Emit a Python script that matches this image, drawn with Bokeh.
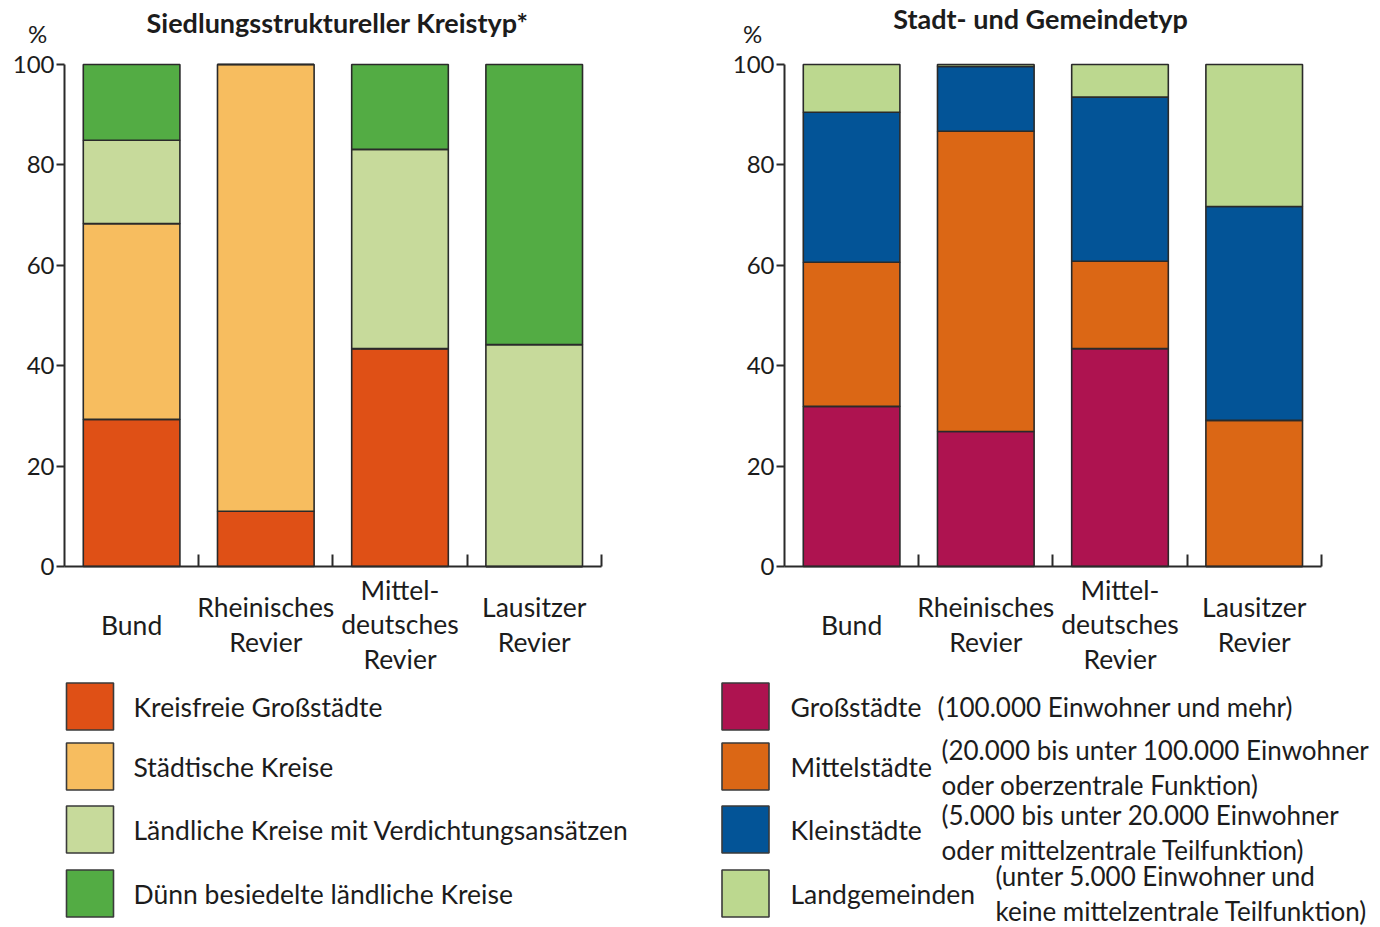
import numpy as np
from bokeh.plotting import figure
from bokeh.models import LinearAxis, FixedTicker, Range1d, ColumnDataSource
from bokeh.layouts import row
from bokeh.embed import file_html
from bokeh.resources import INLINE
from bokeh.core.properties import value

# ---------------- data ----------------
regions = ["Bund", "Rheinisches Revier", "Mitteldeutsches Revier", "Lausitzer Revier"]
region_labels = ["Bund", "Rheinisches\nRevier", "Mittel-\ndeutsches\nRevier", "Lausitzer\nRevier"]

kreis_title = "Siedlungsstruktureller Kreistyp*"
kreis_types = ["Kreisfreie Großstädte", "Städtische Kreise",
               "Ländliche Kreise mit Verdichtungsansätzen", "Dünn besiedelte ländliche Kreise"]
kreisfreie_grossstaedte = [29.3, 11.0, 43.4, 0.0]
staedtische_kreise = [39.0, 89.0, 0.0, 0.0]
laendliche_verdichtung = [16.6, 0.0, 39.7, 44.2]
duenn_besiedelt = [15.1, 0.0, 16.9, 55.8]
kreis_colors = ["#DF5016", "#F7BD5F", "#C7DA9B", "#53AC44"]

gemeinde_title = "Stadt- und Gemeindetyp"
gemeinde_types = ["Großstädte", "Mittelstädte", "Kleinstädte", "Landgemeinden"]
gemeinde_desc = ["(100.000 Einwohner und mehr)",
                 "(20.000 bis unter 100.000 Einwohner\noder oberzentrale Funktion)",
                 "(5.000 bis unter 20.000 Einwohner\noder mittelzentrale Teilfunktion)",
                 "(unter 5.000 Einwohner und\nkeine mittelzentrale Teilfunktion)"]
grossstaedte = [31.9, 26.9, 43.4, 0.0]
mittelstaedte = [28.7, 59.8, 17.4, 29.1]
kleinstaedte = [29.9, 12.9, 32.7, 42.6]
landgemeinden = [9.5, 0.4, 6.5, 28.3]
gemeinde_colors = ["#AE1350", "#DB6715", "#035497", "#BCD88F"]

y_ticks = [0, 20, 40, 60, 80, 100]

# ---------------- layout helpers ----------------
FONT = "Lato"
TXT = "#1c1c1c"
FS = "26.5px"
PXX = 134.2   # pixels per category
PXY = 5.02    # pixels per percent
W, H = 690, 926
Y0_REF = 566  # pixel row of 0 %


def make_panel(left_ref, axis_ref, title, title_ref, pct_ref, names, series, colors,
               legend_rows, desc=None, desc_pos=None):
    rx = lambda px: (px - axis_ref) / PXX
    ry = lambda py: (Y0_REF - py) / PXY
    p = figure(width=W, height=H, output_backend="svg", toolbar_location=None,
               x_axis_location=None, y_axis_location=None, min_border=0,
               x_range=Range1d(rx(left_ref), rx(left_ref + W)),
               y_range=Range1d(ry(H), ry(0)))
    p.outline_line_color = None
    p.grid.visible = False
    p.background_fill_color = "white"
    p.border_fill_color = "white"

    src = {"x": [i + 0.5 for i in range(len(regions))]}
    for n, s in zip(names, series):
        src[n] = s
    p.vbar_stack(names, x="x", width=0.72, color=colors, line_color="#2a2a2a",
                 line_width=1.6, source=ColumnDataSource(src))

    yaxis = LinearAxis(fixed_location=0, bounds=(0, 100), ticker=FixedTicker(ticks=y_ticks),
                       major_tick_out=8, major_tick_in=0, minor_tick_out=0, minor_tick_in=0,
                       major_label_standoff=2, axis_line_width=2, major_tick_line_width=2,
                       axis_line_color="#2a2a2a", major_tick_line_color="#2a2a2a",
                       major_label_text_font=FONT, major_label_text_font_size="24px",
                       major_label_text_color=TXT)
    p.add_layout(yaxis, "left")
    bticks = list(range(1, len(regions) + 1))
    xaxis = LinearAxis(fixed_location=0, bounds=(0, len(regions)),
                       ticker=FixedTicker(ticks=bticks),
                       major_tick_in=12, major_tick_out=0, minor_tick_out=0, minor_tick_in=0,
                       axis_line_width=2, major_tick_line_width=2,
                       axis_line_color="#2a2a2a", major_tick_line_color="#2a2a2a",
                       major_label_overrides={t: "" for t in bticks})
    p.add_layout(xaxis, "below")

    # category labels
    p.text(x=src["x"], y=[ry(624)] * len(regions), text=region_labels,
           text_font=value(FONT), text_font_size=FS, text_align="center",
           text_baseline="middle", text_line_height=1.07, text_color=TXT)
    # title and unit
    p.text(x=[rx(title_ref[0])], y=[ry(title_ref[1])], text=[title],
           text_font=value(FONT), text_font_size="27px", text_font_style="bold",
           text_align="center", text_baseline="middle", text_color=TXT)
    p.text(x=[rx(pct_ref[0])], y=[ry(pct_ref[1])], text=["%"],
           text_font=value(FONT), text_font_size="24px", text_align="center",
           text_baseline="middle", text_color=TXT)

    # legend
    sq_x, txt_x, rows_y = legend_rows
    p.rect(x=[rx(sq_x)] * len(names), y=[ry(v) for v in rows_y], width=47, height=47,
           width_units="screen", height_units="screen", fill_color=colors,
           line_color="#3a3a3a", line_width=1.6)
    p.text(x=[rx(txt_x)] * len(names), y=[ry(v) for v in rows_y], text=names,
           text_font=value(FONT), text_font_size=FS, text_align="left",
           text_baseline="middle", text_color=TXT)
    if desc is not None:
        p.text(x=[rx(d[0]) for d in desc_pos], y=[ry(d[1]) for d in desc_pos], text=desc,
               text_font=value(FONT), text_font_size="26px", text_align="left",
               text_baseline="middle", text_line_height=1.07, text_color=TXT)
    return p


left = make_panel(0, 64, kreis_title, (337, 22), (37, 33), kreis_types,
                  [kreisfreie_grossstaedte, staedtische_kreise, laendliche_verdichtung, duenn_besiedelt],
                  kreis_colors, (89.5, 133, [706, 766, 829, 893]))
right = make_panel(690, 784, gemeinde_title, (1040, 18), (752, 33), gemeinde_types,
                   [grossstaedte, mittelstaedte, kleinstaedte, landgemeinden],
                   gemeinde_colors, (745, 790, [706, 766, 829, 893]),
                   desc=gemeinde_desc,
                   desc_pos=[(937, 706), (941, 767), (941, 832), (995, 893)])

layout = row(left, right)
open("out.html", "w").write(file_html(layout, INLINE))
